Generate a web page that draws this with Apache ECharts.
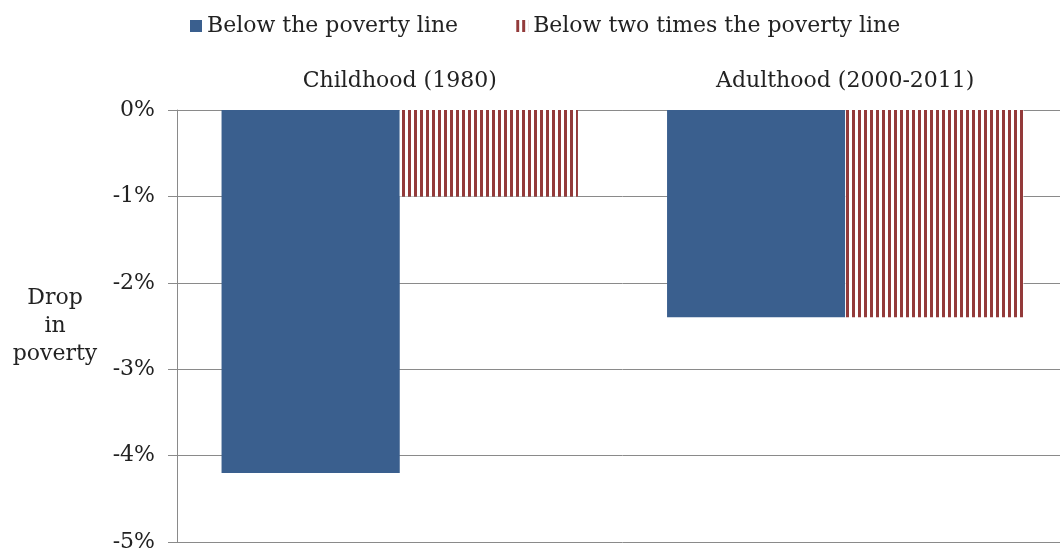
<!DOCTYPE html>
<html>
<head>
<meta charset="utf-8">
<script src="https://cdn.jsdelivr.net/npm/echarts@6/dist/echarts.min.js"></script>
<style>
html,body{margin:0;padding:0;background:#fff;overflow:hidden;}
#chart{width:1068px;height:553px;}
</style>
</head>
<body>
<div id="chart"></div>
<script>
var categories = ['Childhood (1980)', 'Adulthood (2000-2011)'];
var belowPoverty = [-4.2, -2.4];
var belowTwicePoverty = [-1.0, -2.4];
var seriesNames = ['Below the poverty line', 'Below two times the poverty line'];
var yMin = -5, yMax = 0, yInterval = 1;

function stripePattern() {
  var c = document.createElement('canvas');
  c.width = 6; c.height = 6;
  var ctx = c.getContext('2d');
  ctx.fillStyle = '#ffffff';
  ctx.fillRect(0, 0, 6, 6);
  ctx.fillStyle = '#933a3a';
  ctx.fillRect(0, 0, 3, 6);
  return c;
}

var font = 'DejaVu Serif';
var chart = echarts.init(document.getElementById('chart'));
chart.setOption({
  animation: false,
  backgroundColor: '#ffffff',
  textStyle: { fontFamily: font, color: '#222' },
  legend: {
    left: 185, top: 10,
    icon: 'rect',
    itemWidth: 12, itemHeight: 12, itemGap: 58,
    textStyle: { fontFamily: font, fontSize: 22, color: '#222' },
    data: seriesNames
  },
  grid: { left: 177, right: 0, top: 110, bottom: 10, containLabel: false },
  xAxis: {
    type: 'category',
    position: 'top',
    data: categories,
    axisLine: { show: true, lineStyle: { color: '#8a8a8a', width: 1 } },
    axisTick: { show: false },
    axisLabel: { fontFamily: font, fontSize: 22, color: '#222', margin: 18 }
  },
  yAxis: {
    type: 'value',
    min: yMin, max: yMax, interval: yInterval,
    name: 'Drop\nin\npoverty',
    nameLocation: 'middle',
    nameRotate: 0,
    nameGap: 122,
    nameTextStyle: { fontFamily: font, fontSize: 22, color: '#222', align: 'center', verticalAlign: 'middle', lineHeight: 28 },
    axisLine: { show: true, lineStyle: { color: '#8a8a8a', width: 1 } },
    axisTick: { show: true, length: 9, lineStyle: { color: '#8a8a8a' } },
    axisLabel: { fontFamily: font, fontSize: 22, color: '#222', margin: 22, formatter: '{value}%' },
    splitLine: { show: true, lineStyle: { color: '#8a8a8a', width: 1 } }
  },
  series: [
    {
      name: seriesNames[0], type: 'bar', data: belowPoverty,
      barGap: '0%', barCategoryGap: '20%',
      itemStyle: { color: '#3a5f8e' }
    },
    {
      name: seriesNames[1], type: 'bar', data: belowTwicePoverty,
      barGap: '0%', barCategoryGap: '20%',
      itemStyle: { color: { image: stripePattern(), repeat: 'repeat' } }
    }
  ]
});
</script>
</body>
</html>
